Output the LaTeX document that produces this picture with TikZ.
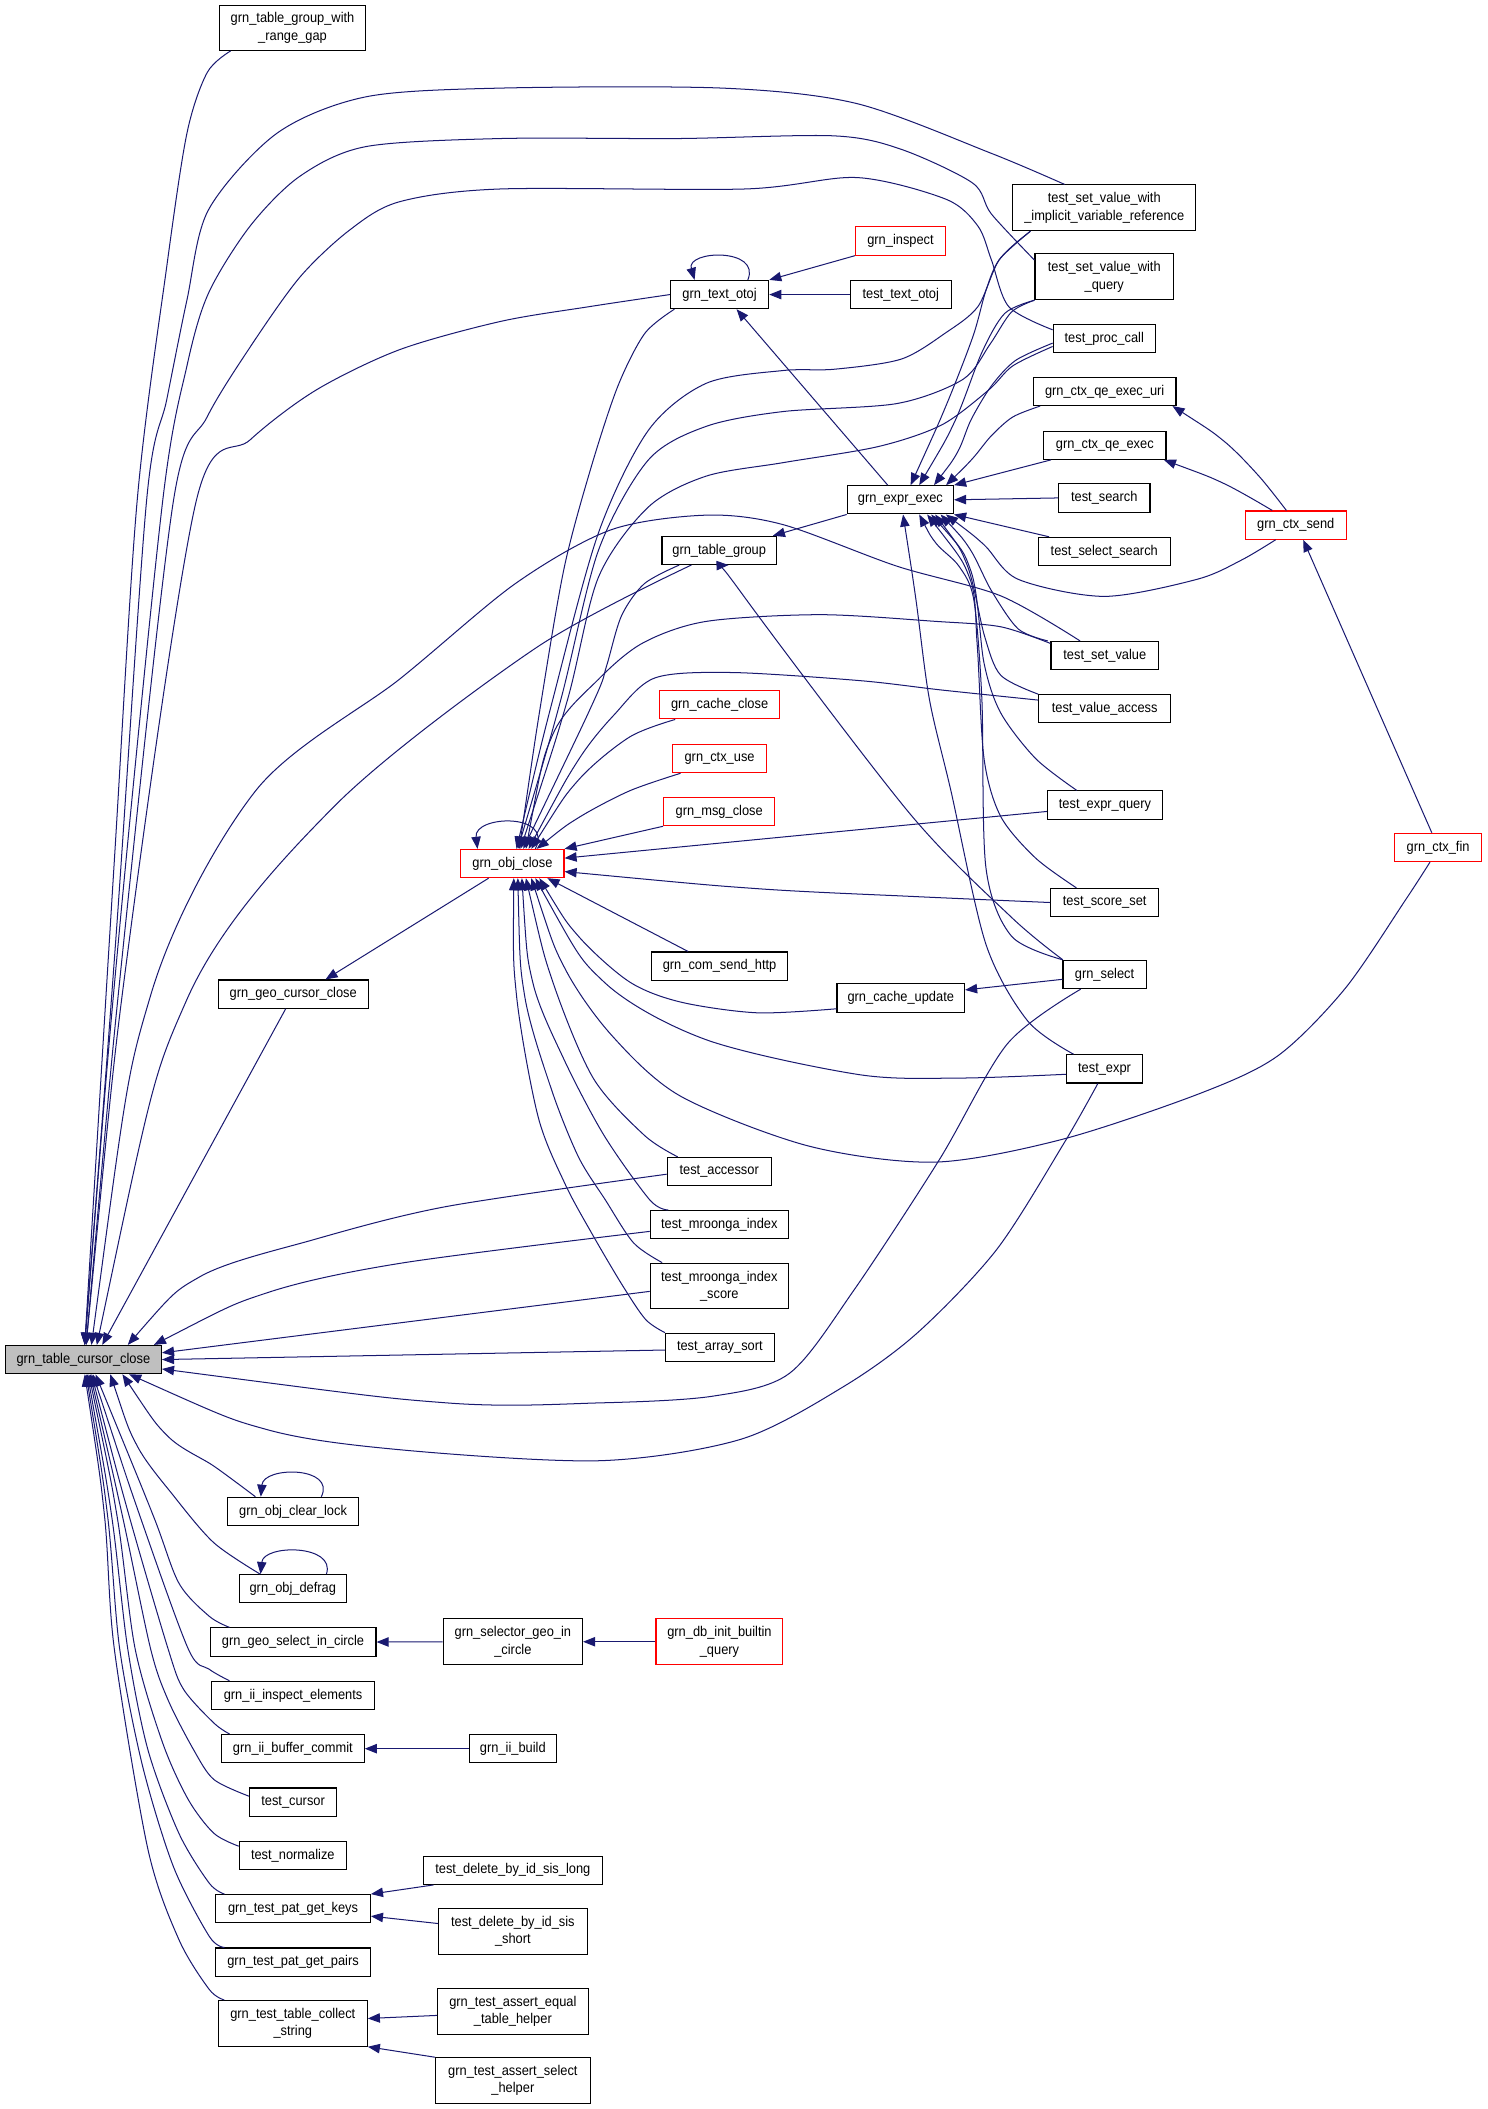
\documentclass[tikz,border=0pt]{standalone}
\usepackage{fontspec}
\setmainfont{Liberation Sans}[FakeStretch=0.91]
\usetikzlibrary{arrows.meta}
\definecolor{edgeblue}{HTML}{191970}
\definecolor{rootgray}{HTML}{BFBFBF}
\tikzset{
  fn/.style={draw=black, line width=0.8pt, fill=white, inner sep=0pt, align=center,
    font=\fontsize{10.5}{12.8}\selectfont},
  fnred/.style={fn, draw=red},
  fnroot/.style={fn, fill=rootgray},
  sz/.style 2 args={minimum width=#1pt, minimum height=#2pt},
  call/.style={draw=edgeblue, line width=0.75pt, arrows={Triangle[length=9pt,width=7pt]-}},
}
\begin{document}
\begin{tikzpicture}[x=1pt,y=-1pt]
\useasboundingbox (0,0) rectangle (1106,1568);
% functions
\node[fn, sz={109}{33.5}] (rgap) at (217.5,20.7) {grn\_table\_group\_with\\\_range\_gap};
\node[fn, sz={136}{34}] (svimpl) at (821,154.5) {test\_set\_value\_with\\\_implicit\_variable\_reference};
\node[fn, sz={103}{34}] (svquery) at (821,205.8) {test\_set\_value\_with\\\_query};
\node[fnred, sz={67}{21}] (inspect) at (669.5,179.2) {grn\_inspect};
\node[fn, sz={73}{21}] (otoj) at (535,219) {grn\_text\_otoj};
\node[fn, sz={75}{21}] (totoj) at (669.7,219) {test\_text\_otoj};
\node[fn, sz={76}{21}] (proc) at (821,251.6) {test\_proc\_call};
\node[fn, sz={106}{21}] (qeuri) at (821.3,291) {grn\_ctx\_qe\_exec\_uri};
\node[fn, sz={91}{21}] (qe) at (821.4,331) {grn\_ctx\_qe\_exec};
\node[fn, sz={79}{21}] (expr) at (669.4,371.6) {grn\_expr\_exec};
\node[fn, sz={68}{21}] (search) at (821,370.2) {test\_search};
\node[fn, sz={98}{21}] (selsearch) at (821,410) {test\_select\_search};
\node[fnred, sz={75}{21}] (send) at (963.4,390.4) {grn\_ctx\_send};
\node[fn, sz={85}{21}] (tgroup) at (534.7,409.2) {grn\_table\_group};
\node[fn, sz={80}{21}] (setvalue) at (821.4,487.4) {test\_set\_value};
\node[fnred, sz={89.5}{21}] (cclose) at (535,524) {grn\_cache\_close};
\node[fn, sz={98}{21}] (valacc) at (821.3,527) {test\_value\_access};
\node[fnred, sz={69.4}{21}] (ctxuse) at (535,564) {grn\_ctx\_use};
\node[fn, sz={85.5}{21}] (equery) at (821.5,598.5) {test\_expr\_query};
\node[fnred, sz={82.6}{21}] (msgclose) at (534.7,603.4) {grn\_msg\_close};
\node[fnred, sz={64.6}{21}] (fin) at (1069.2,630) {grn\_ctx\_fin};
\node[fnred, sz={76.6}{21}] (goc) at (381,642) {grn\_obj\_close};
\node[fn, sz={80.3}{21}] (score) at (821.3,671) {test\_score\_set};
\node[fn, sz={101.3}{21}] (http) at (535,718.3) {grn\_com\_send\_http};
\node[fn, sz={111.4}{21}] (geocc) at (218,739.1) {grn\_geo\_cursor\_close};
\node[fn, sz={94.8}{21}] (cupdate) at (669.7,742) {grn\_cache\_update};
\node[fn, sz={61.8}{21}] (select) at (821.2,724.5) {grn\_select};
\node[fn, sz={56.5}{21}] (texpr) at (821.2,794.7) {test\_expr};
\node[fn, sz={77.3}{21}] (accessor) at (534.7,871) {test\_accessor};
\node[fn, sz={102.7}{21}] (mindex) at (534.8,910.5) {test\_mroonga\_index};
\node[fn, sz={102.7}{34}] (mscore) at (534.8,956.1) {test\_mroonga\_index\\\_score};
\node[fn, sz={80.8}{21}] (asort) at (535.2,1001.7) {test\_array\_sort};
\node[fnroot, sz={116}{21}] (tcc) at (62,1010.8) {grn\_table\_cursor\_close};
\node[fn, sz={97.5}{21}] (clearlock) at (217.9,1123.7) {grn\_obj\_clear\_lock};
\node[fn, sz={79.6}{21}] (defrag) at (217.7,1181.2) {grn\_obj\_defrag};
\node[fn, sz={123.3}{21}] (geosel) at (217.9,1220.8) {grn\_geo\_select\_in\_circle};
\node[fn, sz={103.6}{34}] (selgeo) at (381.3,1220.6) {grn\_selector\_geo\_in\\\_circle};
\node[fnred, sz={94.4}{34}] (dbinit) at (534.9,1220.6) {grn\_db\_init\_builtin\\\_query};
\node[fn, sz={121}{21}] (iiinsp) at (217.9,1260.5) {grn\_ii\_inspect\_elements};
\node[fn, sz={106.2}{21}] (iicommit) at (217.7,1300.1) {grn\_ii\_buffer\_commit};
\node[fn, sz={64.8}{21}] (iibuild) at (381.3,1300.1) {grn\_ii\_build};
\node[fn, sz={64.9}{21}] (tcursor) at (217.9,1339.8) {test\_cursor};
\node[fn, sz={79.6}{21}] (tnorm) at (217.7,1379.4) {test\_normalize};
\node[fn, sz={133.1}{21}] (sislong) at (381.3,1390.5) {test\_delete\_by\_id\_sis\_long};
\node[fn, sz={114.9}{21}] (patkeys) at (217.9,1419.1) {grn\_test\_pat\_get\_keys};
\node[fn, sz={110.4}{34}] (sisshort) at (381.3,1435.9) {test\_delete\_by\_id\_sis\\\_short};
\node[fn, sz={114.9}{21}] (patpairs) at (217.9,1458.8) {grn\_test\_pat\_get\_pairs};
\node[fn, sz={110.7}{34}] (collect) at (217.7,1504.3) {grn\_test\_table\_collect\\\_string};
\node[fn, sz={111.8}{34}] (eqhelper) at (381.3,1495.3) {grn\_test\_assert\_equal\\\_table\_helper};
\node[fn, sz={114.9}{34}] (selhelper) at (381.3,1546.9) {grn\_test\_assert\_select\\\_helper};
% callers of grn_table_cursor_close
\draw[call] plot[smooth] coordinates {([xshift=1pt]tcc.north) (85,640) (102,372) (124,198) (139,99) (154,54) ([xshift=-46pt]rgap.south)};
\draw[call] plot[smooth] coordinates {([xshift=1pt]tcc.north) (86,700) (109,372) (124,297) (139,223) (155,156) (206,99) (272,72) (372,65.5) (537,65.5) (637,77) (737,114) ([xshift=-29.5pt]svimpl.north)};
\draw[call] plot[smooth] coordinates {([xshift=1pt]tcc.north) (88,700) (121,372) (139,272) (155,218) (186,168) (223,131) (272,109) (372,103) (504,103) (620,101) (670,111) (723,136) (737,159) ([yshift=12.4pt]svquery.west)};
\draw[call] plot[smooth] coordinates {([xshift=2pt]tcc.north) (92,700) (129,372) (154,310) (186,258) (223,206) (260,171) (297,150) (372,140.5) (554,140.5) (637,132) (703,148) (727,168) (737,193) (750,228) ([yshift=6.4pt]proc.west)};
\draw[call] plot[smooth] coordinates {([xshift=2pt]tcc.north) (96,700) (146,372) (186,327) (235,290) (297,260) (372,239) (438,228) (otoj.west)};
\draw[call] plot[smooth] coordinates {([xshift=6pt]tcc.north) (112,740) (190,588) (297,505) (383,434) (454,394) (525,383) (582,390) (667,421) (744,443) ([xshift=-18.4pt]setvalue.north)};
\draw[call] plot[smooth] coordinates {([xshift=10pt]tcc.north) (139,743) (249,599) (398,482) ([xshift=-20.7pt]tgroup.south)};
\draw[call] ([xshift=14pt]tcc.north) -- ([xshift=-5.6pt]geocc.south);
\draw[call] plot[smooth] coordinates {([xshift=33pt]tcc.north) (149,949) (232,922) (332,897) ([yshift=-2pt]accessor.west)};
\draw[call] plot[smooth] coordinates {([xshift=-6pt]tcc.north east) (199,961) (299,939) ([yshift=-5pt]mindex.west)};
\draw[call] ([yshift=5pt]tcc.east) -- ([yshift=-4pt]mscore.west);
\draw[call] (tcc.east) -- ([yshift=-2pt]asort.west);
\draw[call] plot[smooth] coordinates {([yshift=-7pt]tcc.east) (332,1043) (446,1043) (530,1038) (587,1021) (635,959) (698.5,862) (749,776) ([xshift=-17.7pt]select.south)};
\draw[call] plot[smooth] coordinates {([xshift=34pt]tcc.south) (199,1063) (299,1078) (446,1086) (551,1070) (627,1031) (682,991) (741,929) (791,850) ([xshift=-5pt]texpr.south)};
\draw[call] plot[smooth] coordinates {([xshift=29pt]tcc.south) (125,1068) (159,1090) ([xshift=-28pt]clearlock.north)};
\draw[call] plot[smooth] coordinates {([xshift=20pt]tcc.south) (102,1075) (129,1112) (159,1147) ([xshift=-24.3pt]defrag.north)};
\draw[call] plot[smooth] coordinates {([xshift=9pt]tcc.south) (114,1127) (133,1177) (155.5,1201.6) ([xshift=-47.3pt]geosel.north)};
\draw[call] plot[smooth] coordinates {([xshift=7pt]tcc.south) (104,1127) (140,1226) (155.5,1241) ([xshift=-47.3pt]iiinsp.north)};
\draw[call] plot[smooth] coordinates {([xshift=6pt]tcc.south) (96,1127) (125,1226) (136.5,1256) (159,1281) ([xshift=-47pt]iicommit.north)};
\draw[call] plot[smooth] coordinates {([xshift=5pt]tcc.south) (91,1127) (112,1226) (125,1264) (144,1301) (159,1323) ([yshift=4.4pt]tcursor.west)};
\draw[call] plot[smooth] coordinates {([xshift=4pt]tcc.south) (87,1127) (100.5,1226) (121,1296) (140,1338) (159,1363) ([yshift=6.8pt]tnorm.west)};
\draw[call] plot[smooth] coordinates {([xshift=3pt]tcc.south) (83,1127) (95,1226) (110,1301) (133,1363) (155.5,1400) ([xshift=-51pt]patkeys.north)};
\draw[call] plot[smooth] coordinates {([xshift=2pt]tcc.south) (80,1127) (89,1226) (106,1313) (129,1388) (155.5,1439.5) ([xshift=-51pt]patpairs.north)};
\draw[call] plot[smooth] coordinates {([xshift=1pt]tcc.south) (77.7,1127) (85,1226) (110,1375) (133,1442) (155.5,1479) ([xshift=-51pt]collect.north)};
% callers of grn_obj_close
\draw[call] ([xshift=-26pt]goc.north) .. controls (352,606) and (412,604) .. ([xshift=17pt]goc.north);
\draw[call] plot[smooth] coordinates {([xshift=5pt]goc.north) (402.6,520) (419.7,421) (439.6,347) (459.4,287) (479.3,248) ([xshift=3.3pt]otoj.south west)};
\draw[call] plot[smooth] coordinates {([xshift=3pt]goc.north) (411,520) (445,396) (482,320) (525,285) (582,275.5) (620.5,274.5) (670,267) (703,247.5) (727,228) (743,193) ([xshift=13.5pt]svimpl.south west)};
\draw[call] plot[smooth] coordinates {([xshift=4pt]goc.north) (417,520) (445,409) (482,342) (525,317) (582,306) (667,300) (716,282) (736,256) (752,232) (svquery.south west)};
\draw[call] plot[smooth] coordinates {([xshift=6pt]goc.north) (422,520) (445,429) (482,377) (525,354) (582,344) (653,332) (700,316) (735,290) (753,272) ([yshift=-6pt]proc.west)};
\draw[call] plot[smooth] coordinates {([xshift=8pt]goc.north) (442,520) (451,495) (462,458) (479,434) ([xshift=-29.7pt]tgroup.south)};
\draw[call] plot[smooth] coordinates {([xshift=10pt]goc.north) (411,546) (445,505) (478,478) (525,462) (610,457) (696,462) (744,466) ([yshift=9pt]setvalue.west)};
\draw[call] plot[smooth] coordinates {([xshift=12pt]goc.north) (430,565) (457,531) (487,504) (544,500) (639,506) (700,513) ([yshift=6.5pt]valacc.west)};
\draw[call] plot[smooth] coordinates {([xshift=14pt]goc.north) (430,580) (468,548) ([xshift=-33pt]cclose.south)};
\draw[call] plot[smooth] coordinates {([xshift=18pt]goc.north) (430,608) (468,588) ([xshift=-29pt]ctxuse.south)};
\draw[call] (goc.north east) -- (msgclose.south west);
\draw[call] ([yshift=4pt]goc.east) -- ([yshift=-4.8pt]equery.west);
\draw[call] plot[smooth] coordinates {([yshift=-6pt]goc.east) (563,660.7) (676.5,666.4) (score.west)};
\draw[call] ([xshift=26pt]goc.south) -- ([xshift=-23.4pt]http.north);
\draw[call] plot[smooth] coordinates {([xshift=20pt]goc.south) (430,696) (468,730) (506,745) (563,753) ([yshift=-8pt]cupdate.west)};
\draw[call] plot[smooth] coordinates {([xshift=17pt]goc.south) (449,730) (525,773) (639,799) (714,801.5) ([yshift=-4pt]texpr.west)};
\draw[call] plot[smooth] coordinates {([xshift=14pt]goc.south) (420,720) (455,770) (506,815) (601,852) (695,864) (790,847) (892,813) (950,785) (1000,735) (1045,669) ([xshift=-6pt]fin.south)};
\draw[call] plot[smooth] coordinates {([xshift=10pt]goc.south) (411,730) (441,801.5) (479,844) ([xshift=-30.8pt]accessor.north)};
\draw[call] plot[smooth] coordinates {([xshift=7pt]goc.south) (396,730) (419,787) (449,844) (483,892) ([xshift=-38pt]mindex.north)};
\draw[call] plot[smooth] coordinates {([xshift=4pt]goc.south) (390,740) (410,810) (430,860) (450,892) (471,924) ([xshift=-42.5pt]mscore.north)};
\draw[call] plot[smooth] coordinates {([xshift=1pt]goc.south) (384,740) (400,830) (420,880) (440,917) (463,956) (480,981) ([xshift=-40.8pt]asort.north)};
\draw[call] ([xshift=24pt]geocc.north) -- ([xshift=-17.7pt]goc.south);
% grn_text_otoj
\draw[call] ([xshift=-18.6pt]otoj.north) .. controls (510,186) and (566,184) .. ([xshift=21pt]otoj.north);
\draw[call] (otoj.north east) -- (inspect.south west);
\draw[call] (otoj.east) -- (totoj.west);
\draw[call] ([xshift=12.6pt]otoj.south) -- ([xshift=-9.4pt]expr.north);
% grn_expr_exec
\draw[call] plot[smooth] coordinates {([xshift=7.6pt]expr.north) (703.4,301.5) (723.4,250) (733,216) (743,193) ([xshift=13.5pt]svimpl.south west)};
\draw[call] plot[smooth] coordinates {([xshift=14pt]expr.north) (710,313) (730,262) (747,233) (svquery.south west)};
\draw[call] plot[smooth] coordinates {([xshift=25pt]expr.north) (712,336) (722,312) (737,287) (755,268) ([yshift=-3.5pt]proc.west)};
\draw[call] plot[smooth] coordinates {([xshift=34pt]expr.north) (723,341) (737,324) (753,310) ([xshift=-48pt]qeuri.south)};
\draw[call] (expr.north east) -- ([xshift=-40pt]qe.south);
\draw[call] (expr.east) -- (search.west);
\draw[call] (expr.south east) -- ([xshift=-41pt]selsearch.north);
\draw[call] plot[smooth] coordinates {([xshift=-6pt]expr.south east) (731.6,405) (757,430.7) (821,443.4) (890,430.7) (923,416.4) ([xshift=-15pt]send.south)};
\draw[call] plot[smooth] coordinates {([xshift=-10pt]expr.south east) (721,408) (737,439) (757,467.6) ([xshift=-2pt]setvalue.north west)};
\draw[call] plot[smooth] coordinates {([xshift=-14pt]expr.south east) (719,420) (732,473) (744,502) (valacc.north west)};
\draw[call] plot[smooth] coordinates {([xshift=-17pt]expr.south east) (722,425) (731.6,493) (744,530) (770,564) ([xshift=-21pt]equery.north)};
\draw[call] plot[smooth] coordinates {([xshift=-20pt]expr.south east) (721,430) (726.5,479) (731.6,564) (744,607) (770,638) ([xshift=-21pt]score.north)};
\draw[call] plot[smooth] coordinates {([xshift=14pt]expr.south) (696,404) (713,421) (724,446) (730,520) (733,645) (752,696) ([xshift=-31pt]select.north)};
\draw[call] plot[smooth] coordinates {([xshift=2pt]expr.south) (681,446) (691,520) (707,588) (733,702) (764,759) ([xshift=-23pt]texpr.north)};
% grn_table_group
\draw[call] ([xshift=-3pt]tgroup.north east) -- (expr.south west);
\draw[call] plot[smooth] coordinates {([xshift=7pt]tgroup.south) (555,446) (676.5,605) (752,682) ([xshift=-31pt]select.north)};
% grn_ctx_send and the rest
\draw[call] plot[smooth] coordinates {([xshift=-3pt]qeuri.south east) (910,328) (936,354) ([xshift=-7pt]send.north)};
\draw[call] plot[smooth] coordinates {([xshift=-2pt]qe.south east) (910,359.5) ([xshift=-17.5pt]send.north)};
\draw[call] ([xshift=5.5pt]send.south) -- ([xshift=-4.7pt]fin.north);
\draw[call] ([yshift=6pt]cupdate.east) -- ([yshift=-3.6pt]select.west);
\draw[call] ([xshift=-24pt]clearlock.north) .. controls (196,1090) and (250,1090) .. ([xshift=21pt]clearlock.north);
\draw[call] ([xshift=-24pt]defrag.north) .. controls (196,1148) and (250,1148) .. ([xshift=25pt]defrag.north);
\draw[call] (geosel.east) -- (selgeo.west);
\draw[call] (selgeo.east) -- (dbinit.west);
\draw[call] (iicommit.east) -- (iibuild.west);
\draw[call] (patkeys.north east) -- ([xshift=-59pt]sislong.south);
\draw[call] ([yshift=-5.5pt]patkeys.east) -- ([yshift=5.8pt]sisshort.west);
\draw[call] ([yshift=3.6pt]collect.east) -- ([yshift=-3.1pt]eqhelper.west);
\draw[call] (collect.south east) -- (selhelper.north west);
\end{tikzpicture}
\end{document}
